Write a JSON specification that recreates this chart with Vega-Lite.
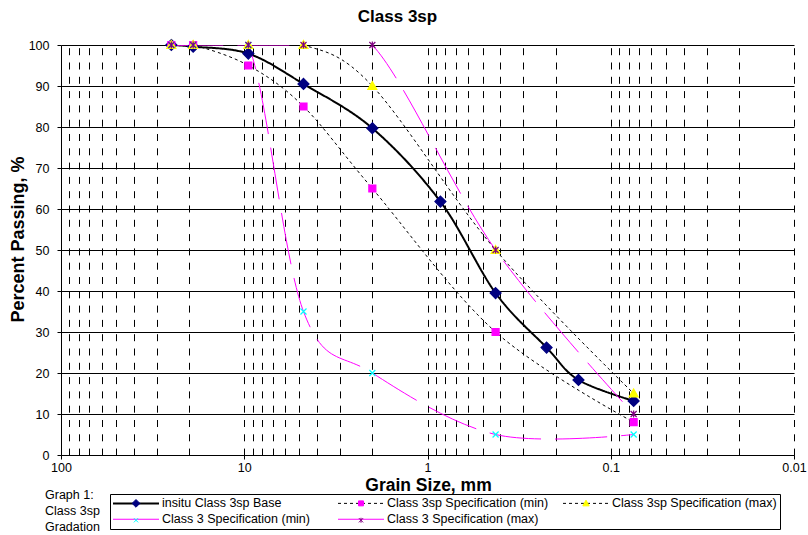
{
  "$schema": "https://vega.github.io/schema/vega-lite/v6.json",
  "width": 733,
  "height": 410,
  "autosize": "none",
  "padding": {"left": 61, "top": 45, "right": 14, "bottom": 80},
  "background": "white",
  "config": {"view": {"stroke": null}, "font": "Liberation Sans"},
  "title": {"text": "Class 3sp", "fontSize": 17, "fontWeight": "bold", "color": "black", "anchor": "middle", "frame": "group", "dx": -30, "offset": 11},
  "data": {"values": [
    {"series": "insitu Class 3sp Base", "size": 25, "pct": 100},
    {"series": "insitu Class 3sp Base", "size": 19, "pct": 99.6},
    {"series": "insitu Class 3sp Base", "size": 9.5, "pct": 97.9},
    {"series": "insitu Class 3sp Base", "size": 4.75, "pct": 90.5},
    {"series": "insitu Class 3sp Base", "size": 2, "pct": 79.7},
    {"series": "insitu Class 3sp Base", "size": 0.85, "pct": 61.8},
    {"series": "insitu Class 3sp Base", "size": 0.425, "pct": 39.5},
    {"series": "insitu Class 3sp Base", "size": 0.224, "pct": 26.2},
    {"series": "insitu Class 3sp Base", "size": 0.15, "pct": 18.3},
    {"series": "insitu Class 3sp Base", "size": 0.075, "pct": 13.2},
    {"series": "Class 3sp Specification (min)", "size": 25, "pct": 100},
    {"series": "Class 3sp Specification (min)", "size": 19, "pct": 100},
    {"series": "Class 3sp Specification (min)", "size": 9.5, "pct": 95},
    {"series": "Class 3sp Specification (min)", "size": 4.75, "pct": 85},
    {"series": "Class 3sp Specification (min)", "size": 2, "pct": 65},
    {"series": "Class 3sp Specification (min)", "size": 0.425, "pct": 30},
    {"series": "Class 3sp Specification (min)", "size": 0.075, "pct": 8},
    {"series": "Class 3sp Specification (max)", "size": 25, "pct": 100},
    {"series": "Class 3sp Specification (max)", "size": 19, "pct": 100},
    {"series": "Class 3sp Specification (max)", "size": 9.5, "pct": 100},
    {"series": "Class 3sp Specification (max)", "size": 4.75, "pct": 100},
    {"series": "Class 3sp Specification (max)", "size": 2, "pct": 90},
    {"series": "Class 3sp Specification (max)", "size": 0.425, "pct": 50},
    {"series": "Class 3sp Specification (max)", "size": 0.075, "pct": 15},
    {"series": "Class 3 Specification (min)", "size": 25, "pct": 100},
    {"series": "Class 3 Specification (min)", "size": 19, "pct": 100},
    {"series": "Class 3 Specification (min)", "size": 9.5, "pct": 100},
    {"series": "Class 3 Specification (min)", "size": 4.75, "pct": 35},
    {"series": "Class 3 Specification (min)", "size": 2, "pct": 20},
    {"series": "Class 3 Specification (min)", "size": 0.425, "pct": 5},
    {"series": "Class 3 Specification (min)", "size": 0.075, "pct": 5},
    {"series": "Class 3 Specification (max)", "size": 25, "pct": 100},
    {"series": "Class 3 Specification (max)", "size": 19, "pct": 100},
    {"series": "Class 3 Specification (max)", "size": 9.5, "pct": 100},
    {"series": "Class 3 Specification (max)", "size": 4.75, "pct": 100},
    {"series": "Class 3 Specification (max)", "size": 2, "pct": 100},
    {"series": "Class 3 Specification (max)", "size": 0.425, "pct": 50},
    {"series": "Class 3 Specification (max)", "size": 0.075, "pct": 10}
  ]},
  "layer": [
    {
      "mark": {"type": "line", "interpolate": "cardinal", "clip": true},
      "encoding": {
        "x": {
          "field": "size", "type": "quantitative",
          "scale": {"type": "log", "domain": [0.01, 100], "reverse": true},
          "axis": {
            "orient": "bottom",
            "values": [100, 90, 80, 70, 60, 50, 40, 30, 20, 10, 9, 8, 7, 6, 5, 4, 3, 2, 1, 0.9, 0.8, 0.7, 0.6, 0.5, 0.4, 0.3, 0.2, 0.1, 0.09, 0.08, 0.07, 0.06, 0.05, 0.04, 0.03, 0.02, 0.01],
            "labelExpr": "indexof([100, 10, 1, 0.1, 0.01], datum.value) >= 0 ? format(datum.value, '~g') : ''",
            "labelOverlap": false, "labelFlush": false, "labelBound": false,
            "labelFontSize": 12.5, "labelColor": "black", "labelPadding": 2,
            "grid": true, "gridColor": "black", "gridWidth": 1, "gridDash": [7, 7.3], "gridDashOffset": 11.6,
            "tickSize": 4, "tickColor": "black",
            "tickOpacity": {"condition": {"test": "indexof([100, 10, 1, 0.1, 0.01], datum.value) >= 0", "value": 1}, "value": 0},
            "domainColor": "black",
            "title": "Grain Size, mm", "titleFontSize": 17.5, "titleFontWeight": "bold", "titleColor": "black",
            "titleX": 367, "titleY": 30, "titleBaseline": "middle", "titleAlign": "center"
          }
        },
        "y": {
          "field": "pct", "type": "quantitative",
          "scale": {"domain": [0, 100]},
          "axis": {
            "values": [0, 10, 20, 30, 40, 50, 60, 70, 80, 90, 100],
            "labelFontSize": 12.5, "labelColor": "black", "labelPadding": 8,
            "grid": true, "gridColor": "black", "gridWidth": 1,
            "tickSize": 4, "tickColor": "black", "domainColor": "black",
            "title": "Percent Passing, %", "titleFontSize": 18, "titleFontWeight": "bold", "titleColor": "black",
            "titleX": -43, "titleY": 194, "titleAngle": -90, "titleBaseline": "middle", "titleAlign": "center"
          }
        },
        "color": {
          "field": "series", "type": "nominal",
          "scale": {
            "domain": ["insitu Class 3sp Base", "Class 3sp Specification (min)", "Class 3sp Specification (max)", "Class 3 Specification (min)", "Class 3 Specification (max)"],
            "range": ["#000000", "#000000", "#000000", "#FF00FF", "#FF00FF"]
          },
          "legend": {
            "orient": "none", "legendX": 49, "legendY": 449, "direction": "horizontal",
            "columns": 3, "gridAlign": "all", "title": null,
            "symbolType": "M-23,0H23", "symbolSize": 4, "symbolOffset": 16.75, "labelOffset": 19.75,
            "symbolStrokeWidth": 1,
            "columnPadding": 9, "rowPadding": 3,
            "labelFontSize": 12.5, "labelColor": "black", "labelLimit": 400,
            "padding": 3, "strokeColor": "black",
            "encode": {"symbols": {"update": {"strokeWidth": {"signal": "datum.value === 'insitu Class 3sp Base' ? 2 : 1"}}}}
          }
        },
        "strokeDash": {
          "field": "series", "type": "nominal",
          "scale": {
            "domain": ["insitu Class 3sp Base", "Class 3sp Specification (min)", "Class 3sp Specification (max)", "Class 3 Specification (min)", "Class 3 Specification (max)"],
            "range": [[1, 0], [3, 3], [3, 3], [52, 14], [52, 14]]
          }
        },
        "strokeWidth": {"condition": {"test": "datum.series === 'insitu Class 3sp Base'", "value": 2}, "value": 1}
      }
    },
    {
      "mark": {"type": "point", "opacity": 1, "size": 4, "strokeWidth": 1.2},
      "encoding": {
        "x": {"field": "size", "type": "quantitative"},
        "y": {"field": "pct", "type": "quantitative"},
        "shape": {
          "field": "series", "type": "nominal",
          "scale": {
            "domain": ["insitu Class 3sp Base", "Class 3sp Specification (min)", "Class 3sp Specification (max)", "Class 3 Specification (min)", "Class 3 Specification (max)"],
            "range": ["M0,-5.5L5.5,0L0,5.5L-5.5,0Z", "M-3.5,-3.5H3.5V3.5H-3.5Z", "M0,-4.5L4.5,3.5H-4.5Z", "M-3,-3L3,3M-3,3L3,-3", "M-3,-3L3,3M-3,3L3,-3M0,-3.5V3.5"]
          },
          "legend": {
            "orient": "none", "legendX": -16, "legendY": 452, "direction": "horizontal",
            "columns": 3, "gridAlign": "all",
            "title": ["Graph 1:", "Class 3sp", "Gradation"],
            "titleOrient": "left", "titleAnchor": "end", "titleBaseline": "middle",
            "titleFontSize": 12.5, "titleFontWeight": "normal", "titleColor": "black", "titleLineHeight": 16, "titlePadding": 13,
            "symbolSize": 2, "symbolOffset": 16.75, "labelOffset": -6, "symbolStrokeWidth": 1,
            "labelExpr": "''",
            "columnPadding": 196, "rowPadding": 4,
            "labelFontSize": 12.5,
            "padding": 0
          }
        },
        "fill": {
          "field": "series", "type": "nominal",
          "scale": {
            "domain": ["insitu Class 3sp Base", "Class 3sp Specification (min)", "Class 3sp Specification (max)", "Class 3 Specification (min)", "Class 3 Specification (max)"],
            "range": ["#000080", "#FF00FF", "#FFFF00", "transparent", "transparent"]
          }
        },
        "stroke": {
          "field": "series", "type": "nominal",
          "scale": {
            "domain": ["insitu Class 3sp Base", "Class 3sp Specification (min)", "Class 3sp Specification (max)", "Class 3 Specification (min)", "Class 3 Specification (max)"],
            "range": ["#000080", "#FF00FF", "#FFFF00", "#00FFFF", "#800080"]
          }
        }
      }
    }
  ],
  "resolve": {"legend": {"shape": "independent", "fill": "independent", "stroke": "independent"}}
}
